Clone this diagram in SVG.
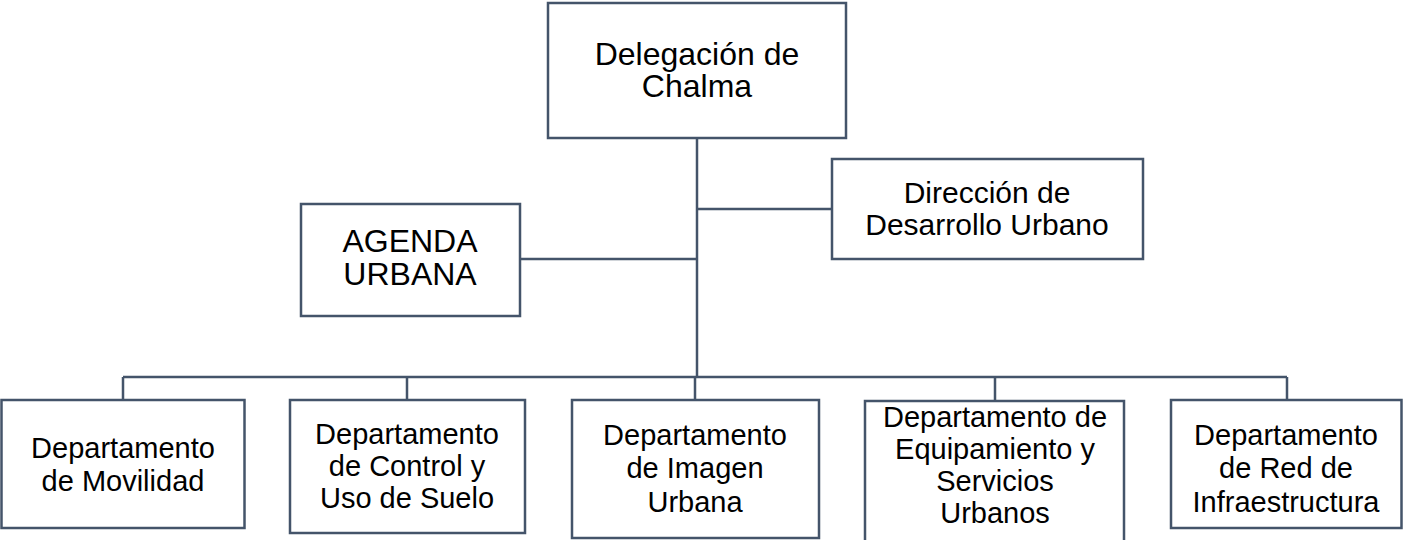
<svg xmlns="http://www.w3.org/2000/svg" width="1403" height="540" viewBox="0 0 1403 540">
<style>
.box{fill:#ffffff;stroke:#44546a;stroke-width:2.5}
.ln{fill:none;stroke:#44546a;stroke-width:2.5}
text{font-family:"Liberation Sans",Arial,sans-serif;fill:#000;text-anchor:middle}
.t32{font-size:32px}
.t30{font-size:30px}
.t29{font-size:29px}
</style>
<rect width="1403" height="540" fill="#ffffff"/>
<g id="connectors">
<path class="ln" d="M697 138V377"/>
<path class="ln" d="M697 209H832"/>
<path class="ln" d="M520 259H697"/>
<path class="ln" d="M123 377H1287"/>
<path class="ln" d="M123 377V400M407 377V400M695 377V400M995 377V400M1287 377V400"/>
</g>
<g id="n-delegacion">
<rect class="box" x="548" y="3" width="298" height="135"/>
<text class="t32" x="697" y="65">Delegación de</text>
<text class="t32" x="697" y="97">Chalma</text>
</g>
<g id="n-direccion">
<rect class="box" x="832" y="159" width="311" height="100"/>
<text class="t30" x="987" y="203">Dirección de</text>
<text class="t30" x="987" y="235">Desarrollo Urbano</text>
</g>
<g id="n-agenda">
<rect class="box" x="301" y="204" width="219" height="112"/>
<text class="t32" x="410" y="252">AGENDA</text>
<text class="t32" x="410" y="285">URBANA</text>
</g>
<g id="n-movilidad">
<rect class="box" x="1.5" y="400" width="243" height="128"/>
<text class="t29" x="123" y="458">Departamento</text>
<text class="t29" x="123" y="491">de Movilidad</text>
</g>
<g id="n-control">
<rect class="box" x="290" y="400" width="235" height="133"/>
<text class="t29" x="407" y="444">Departamento</text>
<text class="t29" x="407" y="476">de Control y</text>
<text class="t29" x="407" y="508">Uso de Suelo</text>
</g>
<g id="n-imagen">
<rect class="box" x="572" y="400" width="247" height="138"/>
<text class="t29" x="695" y="445">Departamento</text>
<text class="t29" x="695" y="478">de Imagen</text>
<text class="t29" x="695" y="512">Urbana</text>
</g>
<g id="n-equipamiento">
<rect class="box" x="865" y="401" width="259" height="150"/>
<text class="t29" x="995" y="427">Departamento de</text>
<text class="t29" x="995" y="459">Equipamiento y</text>
<text class="t29" x="995" y="491">Servicios</text>
<text class="t29" x="995" y="523">Urbanos</text>
</g>
<g id="n-infraestructura">
<rect class="box" x="1171" y="400" width="230.5" height="128"/>
<text class="t29" x="1286" y="445">Departamento</text>
<text class="t29" x="1286" y="478">de Red de</text>
<text class="t29" x="1286" y="512">Infraestructura</text>
</g>
</svg>
